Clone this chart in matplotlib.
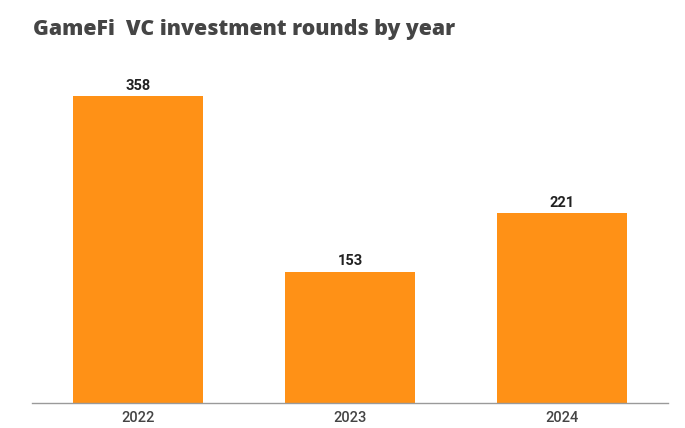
import matplotlib
matplotlib.use("Agg")
import matplotlib.pyplot as plt

years = ["2022", "2023", "2024"]
rounds = [358, 153, 221]

fig = plt.figure(figsize=(6.85, 4.28), dpi=100)
ax = fig.add_axes([32/685, 25/428, 636/685, 343/428])
x = list(range(len(years)))
bars = ax.bar(x, rounds, width=0.615, color="#FF9116")
ax.set_xlim(-0.5, 2.5)
ax.set_ylim(0, 400)
for s in ["top", "right", "left"]:
    ax.spines[s].set_visible(False)
ax.spines["bottom"].set_color("#9a9a9a")
ax.spines["bottom"].set_linewidth(1.0)
ax.set_yticks([])
ax.set_xticks(x)
ax.set_xticklabels(years, fontfamily="Roboto", fontweight="medium", fontsize=10.5, color="#444444")
ax.tick_params(axis="x", length=0, pad=6)
for xi, v in zip(x, rounds):
    ax.annotate(str(v), (xi, v), xytext=(0, 2.5), textcoords="offset points",
                ha="center", va="bottom", fontfamily="Roboto", fontweight="bold",
                fontsize=10.5, color="#222222")
fig.text(33/685, 1 - 30/428, "GameFi  VC investment rounds by year", ha="left", va="center",
         fontfamily="Open Sans", fontweight=800, fontsize=15.3, color="#454545")
fig.savefig("out.png", dpi=100)
